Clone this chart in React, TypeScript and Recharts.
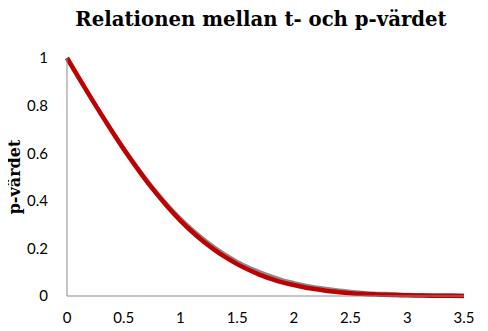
import React from 'react';
import { LineChart, Line, XAxis, YAxis, Label } from 'recharts';

const tValues = [
  0, 0.1, 0.2, 0.3, 0.4, 0.5, 0.6, 0.7, 0.8, 0.9, 1.0, 1.1, 1.2, 1.3, 1.4, 1.5, 1.6, 1.7,
  1.8, 1.9, 2.0, 2.1, 2.2, 2.3, 2.4, 2.5, 2.6, 2.7, 2.8, 2.9, 3.0, 3.1, 3.2, 3.3, 3.4, 3.5,
];

// grey curve, sits just under the red one
const pGrey = [
  1, 0.921, 0.843, 0.766, 0.692, 0.621, 0.553, 0.489, 0.43, 0.375, 0.325, 0.28, 0.24, 0.204,
  0.172, 0.144, 0.12, 0.1, 0.082, 0.067, 0.055, 0.044, 0.036, 0.029, 0.023, 0.018, 0.014,
  0.011, 0.009, 0.007, 0.005, 0.004, 0.003, 0.002, 0.002, 0.001,
];

const pRed = [
  1, 0.92, 0.841, 0.764, 0.689, 0.617, 0.549, 0.484, 0.424, 0.368, 0.317, 0.271, 0.23, 0.194,
  0.162, 0.134, 0.11, 0.089, 0.072, 0.057, 0.046, 0.036, 0.028, 0.021, 0.016, 0.012, 0.009,
  0.007, 0.005, 0.004, 0.003, 0.002, 0.001, 0.001, 0.001, 0.0005,
];

const xTicks = [0, 0.5, 1, 1.5, 2, 2.5, 3, 3.5];
const yTicks = [0, 0.2, 0.4, 0.6, 0.8, 1];

const data = tValues.map((t, i) => ({ t, grey: pGrey[i], red: pRed[i] }));

const tickStyle = { fontFamily: 'Lato, sans-serif', fontSize: 15, fill: '#000' };

const YLabel = () => (
  <text
    x={14}
    y={177}
    transform="rotate(-90 14 177)"
    textAnchor="middle"
    dominantBaseline="central"
    fontFamily='"DejaVu Serif", serif'
    fontWeight="bold"
    fontSize={16}
    fill="#000"
  >
    p-värdet
  </text>
);

export default function App() {
  return (
    <div style={{ position: 'relative', width: 488, height: 331, margin: -8, background: '#fff', overflow: 'hidden' }}>
      <div
        style={{
          position: 'absolute',
          top: 8,
          left: 0,
          width: 488,
          paddingLeft: 34,
          boxSizing: 'border-box',
          textAlign: 'center',
          whiteSpace: 'nowrap',
          fontFamily: '"DejaVu Serif", serif',
          fontWeight: 'bold',
          fontSize: 19.7,
          color: '#000',
        }}
      >
        Relationen mellan t- och p-värdet
      </div>
      <LineChart width={488} height={331} data={data} margin={{ top: 58, right: 24, bottom: 0, left: 0 }}>
        <XAxis
          dataKey="t"
          type="number"
          domain={[0, 3.5]}
          ticks={xTicks}
          tickLine={false}
          tickSize={0}
          tickMargin={16}
          height={35}
          stroke="#8c8c8c"
          tick={tickStyle}
        />
        <YAxis
          type="number"
          domain={[0, 1]}
          ticks={yTicks}
          tickLine={false}
          tickSize={0}
          tickMargin={19}
          width={67}
          stroke="#8c8c8c"
          tick={tickStyle}
        >
          <Label content={<YLabel />} />
        </YAxis>
        <Line dataKey="grey" type="monotone" stroke="#8a8a8a" strokeWidth={4} dot={false} isAnimationActive={false} />
        <Line dataKey="red" type="monotone" stroke="#c00000" strokeWidth={4.5} dot={false} isAnimationActive={false} />
      </LineChart>
    </div>
  );
}
